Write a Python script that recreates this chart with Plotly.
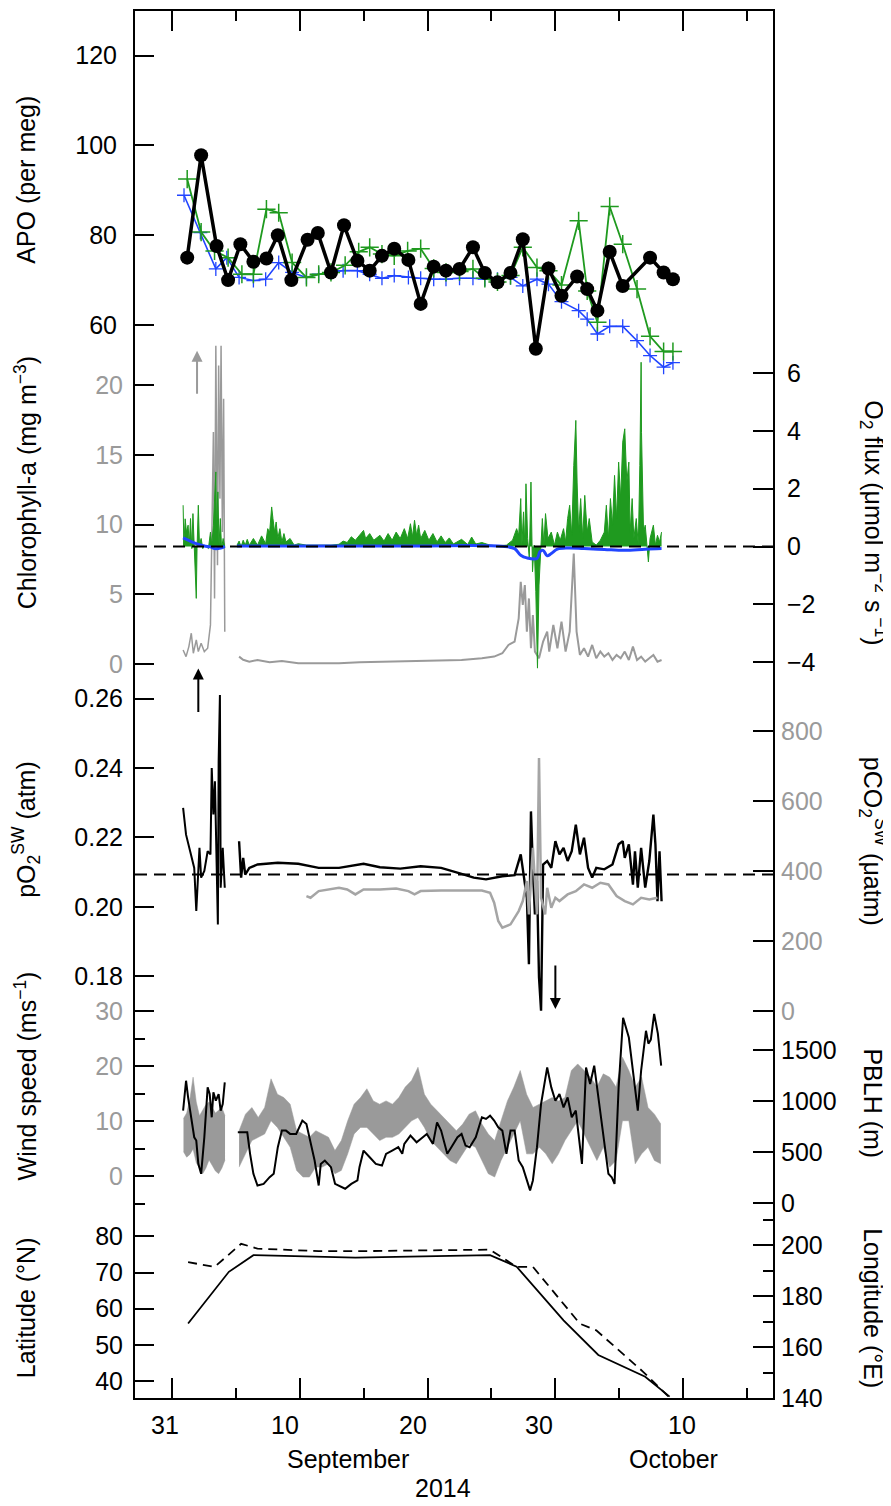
import plotly.graph_objects as go

# ---------------- DATA (x = day of year 2014) ----------------
# APO panel
apo_t = [244.19, 245.28, 246.49, 247.39, 248.35, 249.37, 250.39, 251.28, 252.34, 253.61, 254.41, 255.44,
         256.46, 257.51, 258.47, 259.43, 260.39, 261.50, 262.46, 263.48, 264.44, 265.50, 266.55, 267.48,
         268.47, 269.49, 270.45, 271.47, 272.46, 273.48, 274.70, 275.49, 276.29, 277.25, 278.27, 280.41,
         281.47, 282.20]
apo_obs = [75.0, 97.8, 77.6, 70.0, 78.0, 74.1, 74.8, 80.0, 70.0, 79.0, 80.5, 71.7, 82.2, 74.3, 72.1, 75.4,
           77.0, 74.5, 64.7, 73.0, 72.1, 72.5, 77.3, 71.6, 69.5, 71.6, 79.1, 54.7, 72.6, 66.5, 70.8, 68.0,
           63.2, 76.3, 68.7, 75.0, 71.7, 70.2]
apo_g_t = [244.19, 245.28, 246.33, 247.39, 248.47, 249.37, 250.39, 251.35, 252.40, 253.52, 254.48, 255.44,
           256.55, 257.61, 258.47, 259.43, 260.39, 261.44, 262.46, 263.48, 264.44, 265.50, 266.55, 267.48,
           268.47, 269.49, 270.45, 271.56, 272.46, 273.48, 274.82, 275.49, 276.29, 277.25, 278.27, 279.39,
           280.41, 281.47, 282.20]
apo_g = [92.5, 80.7, 76.5, 75.0, 71.3, 71.3, 85.8, 85.0, 73.9, 70.6, 71.3, 71.7, 73.3, 76.3, 77.3, 75.8,
         75.4, 76.5, 77.0, 72.6, 71.7, 71.9, 72.5, 70.4, 69.6, 71.0, 77.3, 72.8, 72.1, 68.9, 83.2, 67.6,
         60.6, 86.4, 78.0, 68.0, 57.5, 54.1, 54.1]
apo_b_t = [243.94, 245.22, 246.43, 247.29, 248.25, 249.37, 250.33, 251.35, 252.40, 253.52, 254.48, 255.44,
           256.39, 257.51, 258.47, 259.43, 260.39, 261.50, 262.46, 263.48, 264.44, 265.50, 266.55, 267.48,
           268.47, 269.49, 270.45, 271.56, 272.46, 273.48, 274.82, 275.49, 276.29, 277.25, 278.27, 279.39,
           280.41, 281.47, 282.20]
apo_b = [88.9, 80.6, 72.5, 75.0, 70.6, 69.9, 70.2, 73.9, 71.7, 70.6, 71.3, 71.7, 72.1, 72.1, 71.3, 70.4,
         71.0, 70.6, 70.4, 70.2, 70.2, 70.4, 70.4, 70.2, 70.2, 70.6, 68.7, 70.2, 69.1, 65.2, 63.2, 61.3,
         58.0, 59.7, 59.7, 56.5, 53.2, 50.6, 51.6]

# Chlorophyll-a (grey)
chl_t1 = [243.87, 244.10, 244.32, 244.51, 244.67, 244.90, 245.06, 245.28, 245.53, 245.79, 246.01, 246.24,
          246.33, 246.43, 246.56, 246.65, 246.75, 246.84, 246.94, 247.04, 247.13]
chl_v1 = [1.00, 0.52, 1.24, 2.20, 0.76, 1.72, 0.88, 1.48, 0.88, 1.12, 2.80, 16.65, 4.70, 22.86, 7.09, 21.43,
          11.87, 22.86, 9.48, 19.04, 2.31]
chl_t2 = [248.25, 248.57, 249.05, 249.69, 250.64, 251.60, 252.88, 254.48, 256.07, 257.67, 259.27, 260.86,
          262.46, 264.06, 265.66, 267.25, 268.21, 268.85, 269.33, 269.81, 270.13, 270.29, 270.45, 270.61,
          270.77, 270.93, 271.09, 271.24, 271.40, 271.72, 272.04, 272.36, 272.52, 272.84, 273.16, 273.48,
          273.80, 274.12, 274.44, 274.66, 274.92, 275.24, 275.56, 275.88, 276.20, 276.52, 276.83, 277.15,
          277.47, 277.79, 278.11, 278.43, 278.75, 279.07, 279.39, 279.71, 280.03, 280.35, 280.67, 280.99,
          281.31]
chl_v2 = [0.52, 0.29, 0.16, 0.28, 0.12, 0.21, 0.04, 0.04, 0.04, 0.12, 0.16, 0.21, 0.21, 0.28, 0.28, 0.40,
          0.52, 0.76, 1.36, 1.60, 3.27, 5.90, 4.23, 5.66, 2.31, 4.70, 1.12, 3.51, 0.88, 0.40, 1.60, 2.31,
          0.88, 2.79, 1.12, 3.03, 0.88, 2.31, 7.93, 2.31, 0.64, 1.12, 0.52, 1.36, 0.40, 0.88, 0.52, 0.76,
          0.28, 0.64, 0.40, 0.88, 0.28, 1.24, 0.28, 0.52, 0.16, 0.40, 0.64, 0.16, 0.28]

# O2 flux, observed (green) and model (blue)
flux_t1 = [243.87, 243.93, 244.03, 244.13, 244.26, 244.35, 244.45, 244.55, 244.64, 244.74, 244.83, 244.90,
           244.96, 245.06, 245.15, 245.28, 245.41, 245.53, 245.69, 245.85, 246.01, 246.11, 246.24, 246.33,
           246.43, 246.49, 246.59, 246.68, 246.78, 246.88, 247.00, 247.13]
flux_v1 = [1.43, 0.05, 0.96, 0.50, 0.74, 0.05, 0.97, -0.07, 1.14, 0.05, -0.64, -1.79, -0.07, 1.43, 0.05,
           0.28, -0.07, 0.05, 0.00, -0.07, 0.50, 0.05, 0.74, 1.66, 2.58, 0.50, 1.89, 0.05, 0.97, -0.07,
           0.28, 0.00]
flux_t2 = [248.09, 248.25, 248.41, 248.57, 248.73, 248.89, 249.05, 249.37, 249.69, 250.01, 250.33, 250.49,
           250.64, 250.80, 250.90, 251.03, 251.15, 251.28, 251.44, 251.60, 251.76, 251.92, 252.24, 252.56,
           252.88, 253.52, 254.48, 255.44, 256.07, 256.39, 256.71, 257.03, 257.35, 257.67, 257.99, 258.15,
           258.47, 258.79, 259.27, 259.59, 259.91, 260.23, 260.54, 260.86, 261.18, 261.44, 261.66, 261.82,
           261.98, 262.14, 262.30, 262.46, 262.78, 263.10, 263.42, 263.74, 264.06, 264.38, 264.70, 265.02,
           265.66, 266.14, 266.45, 266.77, 267.25, 267.89, 268.53, 269.17, 269.65, 269.97, 270.13, 270.29,
           270.38, 270.51, 270.61, 270.70, 270.83, 270.96, 271.09, 271.21, 271.34, 271.47, 271.60, 271.72,
           271.85, 271.98, 272.10, 272.23, 272.42, 272.68, 272.93, 273.16, 273.38, 273.64, 273.80, 273.96,
           274.12, 274.28, 274.44, 274.60, 274.70, 274.82, 274.98, 275.14, 275.30, 275.49, 275.65, 275.88,
           276.20, 276.52, 276.83, 276.99, 277.15, 277.31, 277.47, 277.63, 277.79, 277.95, 278.11, 278.27,
           278.43, 278.59, 278.75, 278.85, 279.01, 279.14, 279.33, 279.49, 279.61, 279.68, 279.71, 279.74,
           279.81, 279.90, 280.03, 280.19, 280.28, 280.41, 280.54, 280.67, 280.83, 280.99, 281.15, 281.31]
flux_v2 = [0.05, 0.19, 0.00, 0.22, 0.05, 0.25, 0.05, 0.28, 0.05, 0.37, 0.10, 0.62,
           0.50, 1.37, 0.97, 0.50, 0.85, 0.28, 0.62, 0.16, 0.45, 0.16, 0.28, 0.05,
           0.10, 0.05, 0.05, 0.05, 0.08, 0.19, 0.14, 0.34, 0.22, 0.39, 0.56, 0.28,
           0.45, 0.22, 0.39, 0.19, 0.45, 0.22, 0.50, 0.28, 0.62, 0.28, 0.79, 0.34,
           0.91, 0.39, 0.74, 0.28, 0.56, 0.22, 0.45, 0.16, 0.37, 0.14, 0.30, 0.09,
           0.25, 0.07, 0.33, 0.09, 0.14, 0.05, 0.02, 0.05, 0.22, 0.62, 0.39, 1.66,
           0.05, 1.20, 0.05, 2.17, 0.28, -0.41, 2.23, -0.87, 0.05, -1.56, -4.20, -1.33,
           -0.07, 0.97, 0.05, 1.14, 0.28, 0.50, 0.05, 0.50, 0.22, 0.62, 0.16, 0.97,
           1.43, 0.39, 2.80, 4.36, 2.23, 0.50, 1.66, 0.28, 1.77, 0.50, 0.97, 0.16,
           0.05, 0.22, 0.50, 1.43, 0.28, 1.66, 0.74, 2.46, 0.97, 2.92, 1.66, 3.61,
           4.07, 2.23, 2.92, 0.50, 1.66, 0.28, 0.97, 0.05, 2.80, 4.99, 6.37, 3.95,
           2.23, 0.50, 0.74, 0.05, -0.53, 0.28, 0.50, 0.74, 0.05, 0.39, 0.16, 0.50]
model_t1 = [243.87, 244.26, 244.90, 245.53, 246.01, 246.33, 246.81, 247.13]
model_v1 = [0.30, 0.22, 0.10, 0.02, -0.01, -0.07, -0.05, 0.01]
model_t2 = [248.09, 251.00, 256.00, 262.00, 268.85, 269.81, 270.29, 270.77, 271.56, 271.79, 272.04, 272.36,
            272.68, 273.16, 273.96, 275.24, 276.83, 278.43, 280.03, 281.31]
model_v2 = [0.02, 0.02, 0.02, 0.02, 0.01, -0.07, -0.30, -0.39, -0.41, -0.18, -0.13, -0.32,
            -0.24, -0.09, -0.05, -0.07, -0.10, -0.13, -0.09, -0.07]

# pO2 seawater (black)
po2_t1 = [243.87, 244.10, 244.42, 244.74, 244.90, 245.06, 245.15, 245.28, 245.53, 245.79, 246.01, 246.11,
          246.24, 246.36, 246.49, 246.59, 246.65, 246.75, 246.81, 246.97, 247.13]
po2_v1 = [0.2285, 0.2208, 0.2160, 0.2112, 0.1988, 0.2112, 0.2170, 0.2084, 0.2103, 0.2160, 0.2151, 0.2400,
          0.2266, 0.2362, 0.2170, 0.1949, 0.2419, 0.2611, 0.2055, 0.2170, 0.2055]
po2_t2 = [248.25, 248.41, 248.57, 248.73, 249.05, 249.69, 251.28, 252.88, 254.48, 256.07, 257.99, 259.27,
          260.86, 262.46, 264.06, 265.02, 265.66, 266.61, 267.57, 268.85, 269.81, 270.29, 270.45, 270.77,
          270.93, 271.09, 271.24, 271.40, 271.56, 271.72, 271.88, 272.04, 272.36, 272.68, 273.00, 273.32,
          273.64, 273.96, 274.28, 274.60, 274.92, 275.24, 275.56, 275.88, 276.20, 276.83, 277.47, 277.95,
          278.27, 278.43, 278.75, 279.07, 279.23, 279.45, 279.71, 280.03, 280.35, 280.67, 280.83, 280.99,
          281.15, 281.31]
po2_v2 = [0.2189, 0.2084, 0.2141, 0.2093, 0.2112, 0.2122, 0.2127, 0.2124, 0.2112, 0.2112, 0.2124, 0.2114,
          0.2110, 0.2117, 0.2112, 0.2103, 0.2095, 0.2084, 0.2079, 0.2088, 0.2091, 0.2151, 0.2112, 0.2026,
          0.1834, 0.2275, 0.2112, 0.1978, 0.2075, 0.1796, 0.1700, 0.2122, 0.2132, 0.2112, 0.2189, 0.2151,
          0.2170, 0.2132, 0.2160, 0.2237, 0.2151, 0.2199, 0.2112, 0.2084, 0.2112, 0.2108, 0.2122, 0.2180,
          0.2189, 0.2141, 0.2180, 0.2064, 0.2160, 0.2055, 0.2170, 0.2055, 0.2132, 0.2266, 0.2180, 0.2016,
          0.2160, 0.2016]
o2_atm = 0.2093

# pCO2 seawater (grey)
pco2_t = [253.52, 253.84, 254.48, 255.44, 256.07, 256.71, 257.35, 257.99, 259.27, 260.54, 261.50, 261.98,
          262.46, 264.06, 265.66, 267.25, 267.89, 268.21, 268.53, 268.85, 269.49, 270.13, 270.45, 270.77,
          270.93, 271.24, 271.56, 271.72, 271.88, 272.20, 272.36, 272.68, 273.00, 273.32, 273.96, 274.60,
          275.24, 275.88, 276.52, 277.15, 277.79, 278.43, 279.07, 279.71, 280.35, 280.99]
pco2_v = [328.9, 324.1, 343.1, 347.9, 352.6, 347.9, 333.6, 347.9, 347.9, 350.7, 343.1, 333.6,
          343.1, 345.0, 345.0, 345.0, 338.4, 310.0, 257.8, 238.8, 248.3, 286.2, 314.7, 371.6,
          276.7, 466.4, 276.7, 722.4, 324.1, 276.7, 352.6, 295.7, 324.1, 314.7, 333.6, 343.1,
          362.1, 352.6, 366.8, 362.1, 328.9, 314.7, 305.2, 324.1, 319.4, 324.1]

# Wind speed (grey band: upper / lower edge of the scatter)
wind_t1 = [243.90, 244.15, 244.40, 244.65, 244.90, 245.15, 245.40, 245.65, 245.90, 246.15, 246.40, 246.65,
           246.90, 247.15]
wind_hi1 = [10.5, 11.5, 14.0, 18.0, 13.5, 11.0, 12.0, 13.0, 13.5, 12.5, 11.5, 12.0, 12.5, 11.0]
wind_lo1 = [4.5, 3.5, 4.0, 5.0, 2.5, 1.5, 0.5, 1.5, 3.0, 2.0, 1.0, 0.5, 1.5, 3.0]
wind_t2 = [248.25 + 0.5 * k for k in range(67)]
wind_hi2 = [8.3, 11.3, 12.5, 10.7, 12.5, 17.7, 14.9, 14.3, 13.1, 8.3, 7.7, 7.1, 8.3, 7.7, 7.1, 4.7, 6.5,
            10.1, 13.1, 14.3, 15.9, 13.7, 13.1, 13.7, 13.1, 14.3, 16.2, 17.4, 19.8, 14.9, 13.1, 11.9, 10.7,
            9.5, 8.3, 9.5, 11.3, 11.9, 9.5, 7.7, 6.5, 10.1, 13.7, 16.2, 19.2, 14.9, 12.5, 13.1, 13.7, 14.3,
            13.7, 14.3, 19.2, 20.4, 19.2, 18.0, 16.2, 18.6, 18.0, 16.2, 21.6, 19.2, 16.2, 18.0, 12.5, 11.3,
            9.5]
wind_lo2 = [1.7, 4.1, 6.5, 7.1, 7.7, 10.1, 8.9, 7.1, 5.3, 1.1, -0.1, -0.1, 1.7, 1.7, 2.3, 0.5, 1.1, 4.1,
            7.7, 8.9, 8.9, 7.7, 6.5, 7.1, 7.1, 7.7, 8.9, 10.1, 10.7, 8.9, 6.5, 5.3, 4.1, 2.9, 2.3, 4.1, 5.9,
            5.3, 2.9, 0.5, -0.1, 2.9, 5.3, 7.7, 10.1, 4.1, 4.1, 5.3, 4.1, 2.3, 4.1, 6.5, 8.3, 10.1, 7.7,
            5.3, 2.9, 5.3, 1.7, 2.9, 10.1, 10.1, 2.3, 4.1, 5.3, 2.9, 2.3]

# PBLH (black)
pblh_t1 = [243.87, 244.10, 244.26, 244.51, 244.74, 244.90, 245.06, 245.28, 245.53, 245.79, 245.95, 246.11,
           246.24, 246.43, 246.65, 246.81, 246.97, 247.13]
pblh_v1 = [906, 1198, 1036, 808, 646, 614, 386, 289, 646, 1133, 1068, 841, 1085, 1003, 1068, 906, 971, 1182]
pblh_t2 = [248.15, 248.89, 249.11, 249.37, 249.69, 250.17, 250.64, 250.96, 251.28, 251.60, 251.92, 252.24,
           252.72, 253.20, 253.52, 253.84, 254.16, 254.48, 254.64, 254.96, 255.44, 255.76, 256.07, 256.55,
           257.03, 257.51, 257.67, 257.99, 258.47, 258.95, 259.43, 259.75, 260.23, 260.71, 261.02, 261.18,
           261.66, 262.14, 262.46, 262.94, 263.42, 263.74, 264.06, 264.54, 264.86, 265.34, 265.66, 265.97,
           266.29, 266.77, 267.25, 267.57, 267.89, 268.21, 268.53, 268.85, 269.17, 269.49, 269.81, 270.13,
           270.45, 270.77, 271.02, 271.24, 271.56, 271.88, 272.36, 272.68, 273.00, 273.32, 273.64, 273.96,
           274.28, 274.60, 275.08, 275.40, 275.72, 276.04, 276.36, 276.83, 277.15, 277.41, 277.63, 277.95,
           278.30, 278.75, 279.07, 279.45, 279.71, 280.09, 280.28, 280.47, 280.73, 281.02, 281.28]
pblh_v2 = [695, 695, 484, 289, 175, 191, 256, 289, 549, 711, 711, 679,
           679, 809, 776, 581, 419, 175, 386, 419, 354, 191, 175, 143,
           191, 224, 354, 516, 451, 386, 370, 484, 516, 549, 484, 581,
           662, 597, 630, 679, 581, 792, 711, 484, 549, 646, 679, 565,
           549, 646, 841, 825, 857, 809, 744, 711, 484, 711, 711, 419,
           354, 224, 127, 224, 549, 971, 1328, 1133, 1003, 1068, 938, 1036,
           841, 906, 386, 1328, 1166, 1345, 1036, 549, 289, 256, 191, 1133,
           1813, 1620, 1300, 906, 1296, 1686, 1560, 1600, 1851, 1658, 1345]

# Ship track
lat_t = [244.26, 247.45, 249.37, 254.48, 257.35, 267.89, 269.97, 273.64, 276.36, 280.03, 281.94]
lat_v = [55.9, 70.2, 74.8, 74.3, 74.1, 74.8, 71.6, 56.8, 47.2, 41.2, 35.7]
lon_t = [244.26, 246.33, 248.41, 249.69, 254.48, 257.35, 267.89, 269.97, 271.25, 274.92, 276.20, 279.87, 282.00]
lon_v = [193.4, 191.5, 200.6, 198.7, 197.7, 197.7, 198.3, 191.5, 191.5, 169.2, 166.6, 150.3, 139.8]

# Time axis
major_ticks = [243, 253, 263, 273, 283]
minor_ticks = [248, 258, 268, 278, 288]
tick_label_pos = [242.45, 251.84, 261.86, 271.72, 282.90]
tick_labels = ["31", "10", "20", "30", "10"]

# ---------------- FIGURE ----------------
FONT = "Liberation Sans, Arial, sans-serif"
GREY = "#9a9a9a"
GREEN = "#1f9a1f"
BLUE = "#2145ff"

# page body has an 8 px margin; the figure is sized so that the plot frame
# lands at x 135..773, y 9..1398 of the 891x1506 window
W, HT = 883, 1498
ML, MT, MB = 127, 1, 108
PW = 638.0
PH = HT - MT - MB  # 1389

fig = go.Figure()

def add(x, y, axis, **kw):
    fig.add_trace(go.Scatter(x=x, y=y, yaxis=axis, showlegend=False, hoverinfo="skip", **kw))

# APO
add(apo_b_t, apo_b, "y", mode="lines+markers", line=dict(color=BLUE, width=1.6),
    marker=dict(symbol="cross-thin", size=10, line=dict(color=BLUE, width=1.3)))
add(apo_g_t, apo_g, "y", mode="lines+markers", line=dict(color=GREEN, width=1.8),
    marker=dict(symbol="cross-thin", size=13, line=dict(color=GREEN, width=1.5)))
add(apo_t, apo_obs, "y", mode="lines+markers", line=dict(color="black", width=3.5),
    marker=dict(symbol="circle", size=14, color="black"))

# Chlorophyll
add(chl_t1, chl_v1, "y2", mode="lines", line=dict(color=GREY, width=1.5))
add(chl_t2, chl_v2, "y2", mode="lines", line=dict(color=GREY, width=2))

# O2 flux
add(flux_t1, flux_v1, "y3", mode="lines", line=dict(color=GREEN, width=1), fill="tozeroy", fillcolor=GREEN)
add(flux_t2, flux_v2, "y3", mode="lines", line=dict(color=GREEN, width=1), fill="tozeroy", fillcolor=GREEN)
add(model_t1, model_v1, "y3", mode="lines", line=dict(color=BLUE, width=3, shape="spline"))
add(model_t2, model_v2, "y3", mode="lines", line=dict(color=BLUE, width=3, shape="spline"))

# pCO2 then pO2
add(pco2_t, pco2_v, "y5", mode="lines", line=dict(color="#a5a5a5", width=2.5))
add(po2_t1, po2_v1, "y4", mode="lines", line=dict(color="black", width=2))
add(po2_t2, po2_v2, "y4", mode="lines", line=dict(color="black", width=2.4))

# Wind speed band
add(wind_t1, wind_lo1, "y6", mode="lines", line=dict(color=GREY, width=0.5))
add(wind_t1, wind_hi1, "y6", mode="lines", line=dict(color=GREY, width=0.5), fill="tonexty", fillcolor=GREY)
add(wind_t2, wind_lo2, "y6", mode="lines", line=dict(color=GREY, width=0.5))
add(wind_t2, wind_hi2, "y6", mode="lines", line=dict(color=GREY, width=0.5), fill="tonexty", fillcolor=GREY)

# PBLH
add(pblh_t1, pblh_v1, "y7", mode="lines", line=dict(color="black", width=2))
add(pblh_t2, pblh_v2, "y7", mode="lines", line=dict(color="black", width=2))

# Ship track
add(lat_t, lat_v, "y8", mode="lines", line=dict(color="black", width=1.8))
add(lon_t, lon_v, "y9", mode="lines", line=dict(color="black", width=1.8, dash="9px,6px"))

# dummy trace for the label axis
fig.add_trace(go.Scatter(x=[None], y=[None], xaxis="x2", yaxis="y", showlegend=False, hoverinfo="skip"))

XR = [240.105, 290.03]
tickfont = dict(family=FONT, size=25, color="black")
greyfont = dict(family=FONT, size=25, color=GREY)

def yax(rng, vals, side, font, fmt=None, showline=False, minor=None, overlay=True, standoff=11, ticklen=19):
    d = dict(range=rng, domain=[0, 1], anchor="x", side=side, tickvals=vals, ticks="inside", ticklen=ticklen,
             tickwidth=2, tickcolor="black", tickfont=font, showgrid=False, zeroline=False,
             showline=showline, linecolor="black", linewidth=2, ticklabelstandoff=standoff, fixedrange=True)
    if fmt:
        d["tickformat"] = fmt
    if overlay:
        d["overlaying"] = "y"
    if minor is not None:
        d["minor"] = dict(tickvals=minor, ticks="inside", ticklen=10, tickwidth=2, tickcolor="black", showgrid=False)
    return d

fig.update_layout(
    width=W, height=HT,
    margin=dict(l=ML, r=W - ML - PW, t=MT, b=MB, pad=0),
    paper_bgcolor="white", plot_bgcolor="white",
    showlegend=False,
    font=dict(family=FONT, color="black"),
    xaxis=dict(range=XR, tickvals=major_ticks, ticks="inside", ticklen=20, tickwidth=2, tickcolor="black",
               showticklabels=False, showline=True, linecolor="black", linewidth=2, mirror="ticks",
               showgrid=False, zeroline=False, fixedrange=True,
               minor=dict(tickvals=minor_ticks, ticks="inside", ticklen=10, tickwidth=2, tickcolor="black",
                          showgrid=False)),
    xaxis2=dict(range=XR, overlaying="x", anchor="y", side="bottom", tickvals=tick_label_pos,
                ticktext=tick_labels, ticks="outside", ticklen=5, tickcolor="rgba(0,0,0,0)",
                tickfont=tickfont, showline=False, showgrid=False, zeroline=False, fixedrange=True),
    yaxis=yax([-178.96, 129.93], [60, 80, 100, 120], "left", tickfont, showline=True, overlay=False),
    yaxis2=yax([-52.74, 46.90], [0, 5, 10, 15, 20], "left", greyfont),
    yaxis3=yax([-29.42, 18.507], [-4, -2, 0, 2, 4, 6], "right", tickfont, showline=True, standoff=7, ticklen=20),
    yaxis4=yax([0.05833, 0.45833], [0.18, 0.20, 0.22, 0.24, 0.26], "left", tickfont, fmt=".2f"),
    yaxis5=yax([-1102.1, 2852.3], [0, 200, 400, 600, 800], "right", greyfont, standoff=7, ticklen=20),
    yaxis6=yax([-40.14, 211.2], [0, 10, 20, 30], "left", greyfont, minor=[-5, 5, 15, 25]),
    yaxis7=yax([-1900.3, 11645], [0, 500, 1000, 1500], "right", tickfont, standoff=7, ticklen=20),
    yaxis8=yax([35.31, 418.76], [40, 50, 60, 70, 80], "left", tickfont),
    yaxis9=yax([140.0, 685.1], [140, 160, 180, 200], "right", tickfont, minor=[150, 170, 190, 210],
               standoff=7, ticklen=20),
)

# dashed reference lines
fig.add_shape(type="line", xref="paper", x0=0, x1=1, yref="y3", y0=0, y1=0,
              line=dict(color="black", width=2, dash="12px,7px"))
fig.add_shape(type="line", xref="paper", x0=0, x1=1, yref="y4", y0=o2_atm, y1=o2_atm,
              line=dict(color="black", width=2, dash="12px,7px"))

# arrows
fig.add_annotation(x=244.96, y=22.5, ax=244.96, ay=19.3, xref="x", yref="y2", axref="x", ayref="y2",
                   text="", showarrow=True, arrowhead=2, arrowsize=1.1, arrowwidth=2, arrowcolor=GREY)
fig.add_annotation(x=245.06, y=0.2687, ax=245.06, ay=0.2557, xref="x", yref="y4", axref="x", ayref="y4",
                   text="", showarrow=True, arrowhead=2, arrowsize=1.1, arrowwidth=2, arrowcolor="black")
fig.add_annotation(x=273.0, y=0.1705, ax=273.0, ay=0.1835, xref="x", yref="y4", axref="x", ayref="y4",
                   text="", showarrow=True, arrowhead=2, arrowsize=1.1, arrowwidth=2, arrowcolor="black")

# axis titles (rotated text); positions given in window pixels
def xpaper(px):
    return (px - 8 - ML) / PW

def ypaper(py):
    return (HT - MB - (py - 8)) / PH

left_titles = [("APO (per meg)", 178), ("Chlorophyll-a (mg m<sup>−3</sup>)", 482),
               ("pO<sub>2</sub><sup>SW</sup> (atm)", 829), ("Wind speed (ms<sup>−1</sup>)", 1076),
               ("Latitude (°N)", 1308)]
right_titles = [("O<sub>2</sub> flux (μmol m<sup>−2</sup> s<sup> −1</sup>)", 521),
                ("pCO<sub>2</sub><sup>SW</sup> (μatm)", 840), ("PBLH (m)", 1103), ("Longitude (°E)", 1308)]
for txt, py in left_titles:
    fig.add_annotation(x=xpaper(26), y=ypaper(py), xref="paper", yref="paper", text=txt,
                       textangle=-90, showarrow=False, font=dict(family=FONT, size=25, color="black"),
                       xanchor="center", yanchor="middle")
for txt, py in right_titles:
    fig.add_annotation(x=xpaper(873), y=ypaper(py), xref="paper", yref="paper", text=txt,
                       textangle=90, showarrow=False, font=dict(family=FONT, size=25, color="black"),
                       xanchor="center", yanchor="middle")

# month / year labels
for txt, px, py in [("September", 348, 1459), ("October", 673, 1459), ("2014", 443, 1488)]:
    fig.add_annotation(x=xpaper(px), y=ypaper(py), xref="paper", yref="paper", text=txt,
                       showarrow=False, font=dict(family=FONT, size=25, color="black"),
                       xanchor="center", yanchor="middle")

fig.write_html("out.html")
